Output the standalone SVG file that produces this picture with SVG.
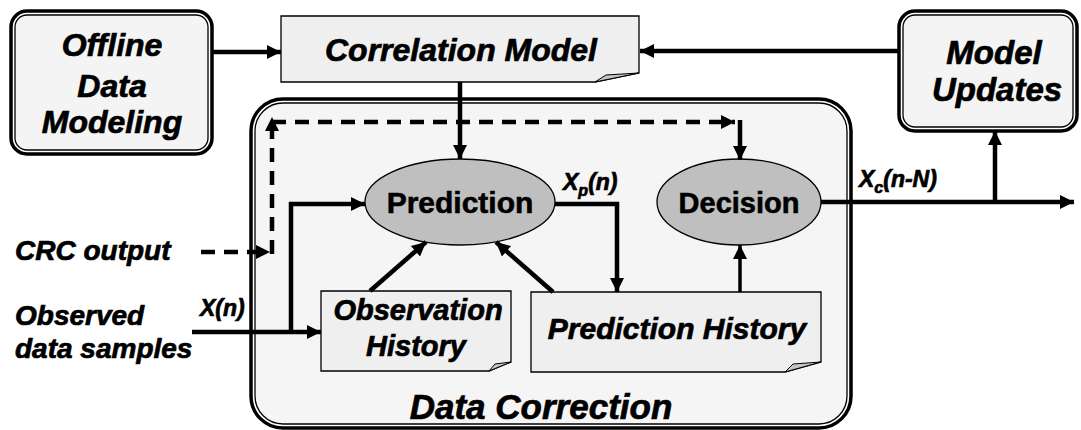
<svg xmlns="http://www.w3.org/2000/svg" width="1081" height="430" viewBox="0 0 1081 430">
  <style>
    .lbl { font-family: "Liberation Sans", Arial, sans-serif; font-weight: bold; font-style: italic; fill: #000; stroke: #000; stroke-width: 0.7; }
    .ell { font-family: "Liberation Sans", Arial, sans-serif; font-weight: bold; fill: #000; stroke: #000; stroke-width: 0.6; }
    .outer { fill: none; stroke: #000; stroke-width: 3.5; }
    .inner { stroke: #000; stroke-width: 1.3; }
    .note { fill: #efefef; stroke: #000; stroke-width: 1.3; }
    .fold { fill: #c4c4c4; stroke: #000; stroke-width: 1; }
    .oval { fill: #bfbfbf; stroke: #000; stroke-width: 1.3; }
    .wire { fill: none; stroke: #000; stroke-width: 4.5; }
    .thin { fill: none; stroke: #000; stroke-width: 3.5; }
    .dash { fill: none; stroke: #000; stroke-width: 4.5; stroke-dasharray: 14 9; }
  </style>
  <defs>
    <marker id="ah" markerUnits="userSpaceOnUse" markerWidth="16" markerHeight="16" refX="14" refY="8" orient="auto">
      <path d="M0,1 L14,8 L0,15 z" fill="#000"/>
    </marker>
  </defs>

  <rect width="1081" height="430" fill="#fff"/>

  <!-- Data Correction container -->
  <g id="data-correction">
    <rect class="outer" x="251" y="99" width="600" height="329" rx="32"/>
    <rect class="inner" x="255" y="103" width="592" height="321" rx="28" fill="#f5f5f5"/>
    <text class="lbl" x="541" y="419" font-size="35" text-anchor="middle">Data Correction</text>
  </g>

  <!-- Offline Data Modeling -->
  <g id="offline-modeling">
    <rect class="outer" x="11" y="11" width="201" height="143" rx="16"/>
    <rect class="inner" x="15" y="15" width="193" height="135" rx="12" fill="#f4f4f4"/>
    <text class="lbl" x="112" y="56" font-size="32" text-anchor="middle">Offline</text>
    <text class="lbl" x="112" y="97" font-size="32" text-anchor="middle">Data</text>
    <text class="lbl" x="112" y="133" font-size="32" text-anchor="middle">Modeling</text>
  </g>

  <!-- Model Updates -->
  <g id="model-updates">
    <rect class="outer" x="899" y="11" width="178" height="120" rx="16"/>
    <rect class="inner" x="903" y="15" width="170" height="112" rx="12" fill="#f4f4f4"/>
    <text class="lbl" x="994" y="64" font-size="33" text-anchor="middle">Model</text>
    <text class="lbl" x="997" y="101" font-size="33" text-anchor="middle">Updates</text>
  </g>

  <!-- Correlation Model -->
  <g id="correlation-model">
    <path class="note" d="M281,16 H639 V73 L595,82 H281 Z"/>
    <path class="fold" d="M595,82 L606,75 L639,73 Z"/>
    <text class="lbl" x="461" y="61" font-size="32" text-anchor="middle">Correlation Model</text>
  </g>

  <!-- Prediction -->
  <g id="prediction">
    <ellipse class="oval" cx="460" cy="202" rx="95" ry="43"/>
    <text class="ell" x="460" y="213" font-size="30" text-anchor="middle">Prediction</text>
  </g>

  <!-- Decision -->
  <g id="decision">
    <ellipse class="oval" cx="739" cy="202" rx="82" ry="43"/>
    <text class="ell" x="739" y="213" font-size="29" text-anchor="middle">Decision</text>
  </g>

  <!-- Observation History -->
  <g id="observation-history">
    <path class="note" d="M321,291 H511 V362 L489,371 H321 Z"/>
    <path class="fold" d="M489,371 L495,364 L511,362 Z"/>
    <text class="lbl" x="418" y="320" font-size="29" text-anchor="middle">Observation</text>
    <text class="lbl" x="416" y="356" font-size="29" text-anchor="middle">History</text>
  </g>

  <!-- Prediction History -->
  <g id="prediction-history">
    <path class="note" d="M531,292 H821 V362 L785,372 H531 Z"/>
    <path class="fold" d="M785,372 L793,364 L821,362 Z"/>
    <text class="lbl" x="677" y="339" font-size="30" text-anchor="middle">Prediction History</text>
  </g>

  <!-- Side labels -->
  <g id="inputs">
    <text class="lbl" x="15" y="260" font-size="28">CRC output</text>
    <text class="lbl" x="15" y="325" font-size="28">Observed</text>
    <text class="lbl" x="15" y="358" font-size="28">data samples</text>
  </g>

  <!-- Connectors -->
  <g id="connectors">
    <line class="wire" x1="212" y1="52" x2="281" y2="52" marker-end="url(#ah)"/>
    <line class="wire" x1="899" y1="51" x2="640" y2="51" marker-end="url(#ah)"/>
    <line class="wire" x1="460" y1="82" x2="460" y2="159" marker-end="url(#ah)"/>

    <!-- X(n) input and branch to Prediction -->
    <line class="wire" x1="192" y1="332" x2="321" y2="332" marker-end="url(#ah)"/>
    <polyline class="wire" points="291,332 291,204 365,204" marker-end="url(#ah)"/>

    <!-- histories feeding Prediction -->
    <line class="wire" x1="370" y1="291" x2="426" y2="242" marker-end="url(#ah)"/>
    <line class="wire" x1="553" y1="292" x2="496" y2="242" marker-end="url(#ah)"/>

    <!-- Xp(n) to Prediction History -->
    <polyline class="wire" points="555,204 617,204 617,292" marker-end="url(#ah)"/>

    <!-- Prediction History to Decision -->
    <line class="thin" x1="740" y1="292" x2="740" y2="245" marker-end="url(#ah)"/>

    <!-- Xc(n-N) output and feedback to Model Updates -->
    <line class="wire" x1="821" y1="202" x2="1074" y2="202" marker-end="url(#ah)"/>
    <line class="wire" x1="995" y1="202" x2="995" y2="131" marker-end="url(#ah)"/>

    <!-- CRC output path to Decision -->
    <line class="dash" x1="201" y1="252" x2="270" y2="252" marker-end="url(#ah)"/>
    <line class="dash" x1="272" y1="254" x2="272" y2="117" marker-end="url(#ah)"/>
    <line class="dash" x1="272" y1="122" x2="735" y2="122" marker-end="url(#ah)"/>
    <line class="wire" x1="740" y1="120" x2="740" y2="160" marker-end="url(#ah)"/>

    <!-- signal labels -->
    <text class="lbl" x="200" y="316" font-size="23">X(n)</text>
    <text class="lbl" x="563" y="190" font-size="23">X<tspan font-size="16" dy="6">p</tspan><tspan dy="-6">(n)</tspan></text>
    <text class="lbl" x="859" y="187" font-size="23">X<tspan font-size="16" dy="6">c</tspan><tspan dy="-6">(n-N)</tspan></text>
  </g>
</svg>
